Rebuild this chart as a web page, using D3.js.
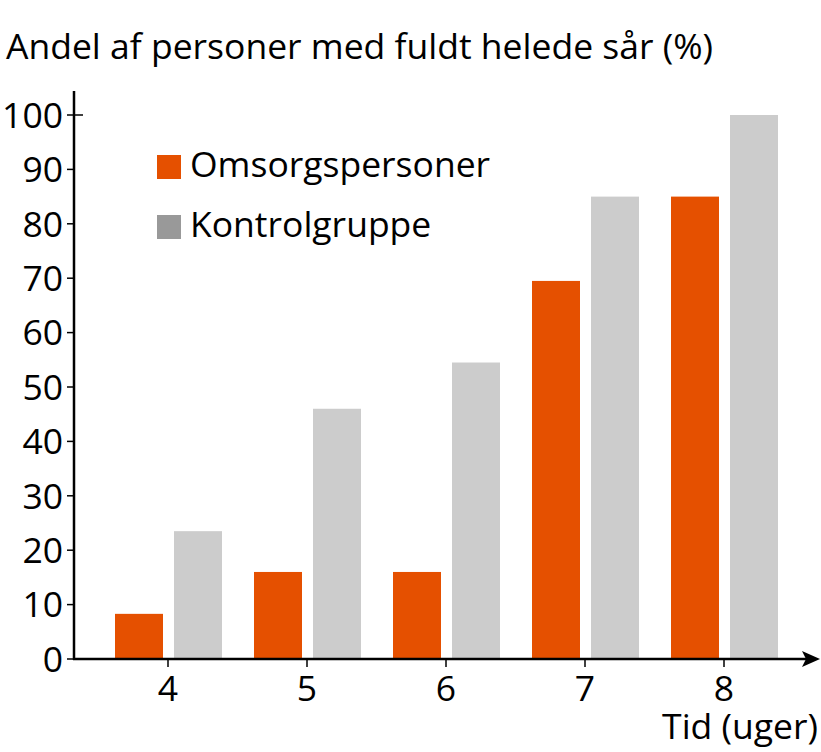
<!DOCTYPE html>
<html><head><meta charset="utf-8">
<script src="https://cdn.jsdelivr.net/npm/d3@7"></script>
<style>body{margin:0;background:#fff}svg{display:block}text{font-family:"Open Sans",sans-serif;fill:#000}</style>
</head><body>
<script>
const categories = ["4","5","6","7","8"];
const seriesNames = ["Omsorgspersoner","Kontrolgruppe"];
const omsorg = [8.3, 16, 16, 69.5, 85];
const kontrol = [23.5, 46, 54.5, 85, 100];
const yTicks = [0,10,20,30,40,50,60,70,80,90,100];
const title = "Andel af personer med fuldt helede sår (%)";
const xTitle = "Tid (uger)";

const W = 821, H = 752;
const barColors = ["#e55000", "#cccccc"];
const legendColors = ["#e55000", "#999999"];
const svg = d3.select("body").append("svg").attr("width", W).attr("height", H);

const x = d3.scalePoint().domain(categories).range([168, 724]);
const x1 = d3.scaleBand().domain(seriesNames).range([-53, 54]).paddingInner(0.1864);
const y = d3.scaleLinear().domain([0, 100]).range([659, 115]);
const data = [omsorg, kontrol];

// bars
seriesNames.forEach((s, si) => {
  svg.append("g").selectAll("rect").data(categories).join("rect")
    .attr("x", c => x(c) + x1(s))
    .attr("width", x1.bandwidth())
    .attr("y", (c, i) => y(data[si][i]))
    .attr("height", (c, i) => y(0) - y(data[si][i]))
    .attr("fill", barColors[si]);
});

const fs = 35.5;
// y axis
svg.append("line").attr("x1", 74).attr("x2", 74).attr("y1", 91).attr("y2", 660)
  .attr("stroke", "#000").attr("stroke-width", 2.5);
svg.append("g").selectAll("line").data(yTicks).join("line")
  .attr("x1", 67).attr("x2", d => d === 100 ? 83 : 74)
  .attr("y1", d => y(d)).attr("y2", d => y(d))
  .attr("stroke", "#000").attr("stroke-width", 1.5);
svg.append("g").selectAll("text").data(yTicks).join("text")
  .attr("x", 63).attr("y", d => y(d)).attr("dy", "0.36em")
  .attr("text-anchor", "end").attr("font-size", fs).text(d => d);

// x axis
svg.append("line").attr("x1", 73).attr("x2", 808).attr("y1", 659).attr("y2", 659)
  .attr("stroke", "#000").attr("stroke-width", 2.5);
svg.append("path").attr("d", "M820,659 L802,651 L806,659 L802,667 Z").attr("fill", "#000");
svg.append("g").selectAll("line").data(categories).join("line")
  .attr("x1", c => x(c)).attr("x2", c => x(c)).attr("y1", 659).attr("y2", 667)
  .attr("stroke", "#000").attr("stroke-width", 1.5);
svg.append("g").selectAll("text").data(categories).join("text")
  .attr("x", c => x(c)).attr("y", 701).attr("text-anchor", "middle")
  .attr("font-size", fs).text(c => c);
svg.append("text").attr("x", 818).attr("y", 739).attr("text-anchor", "end")
  .attr("font-size", fs).text(xTitle);

// title
svg.append("text").attr("x", 6).attr("y", 59).attr("font-size", fs).text(title);

// legend
seriesNames.forEach((s, i) => {
  const ly = 155 + i * 60;
  svg.append("rect").attr("x", 157).attr("y", ly).attr("width", 24).attr("height", 24)
    .attr("fill", legendColors[i]);
  svg.append("text").attr("x", 190).attr("y", ly + 22).attr("font-size", fs).text(s);
});
</script>
</body></html>
